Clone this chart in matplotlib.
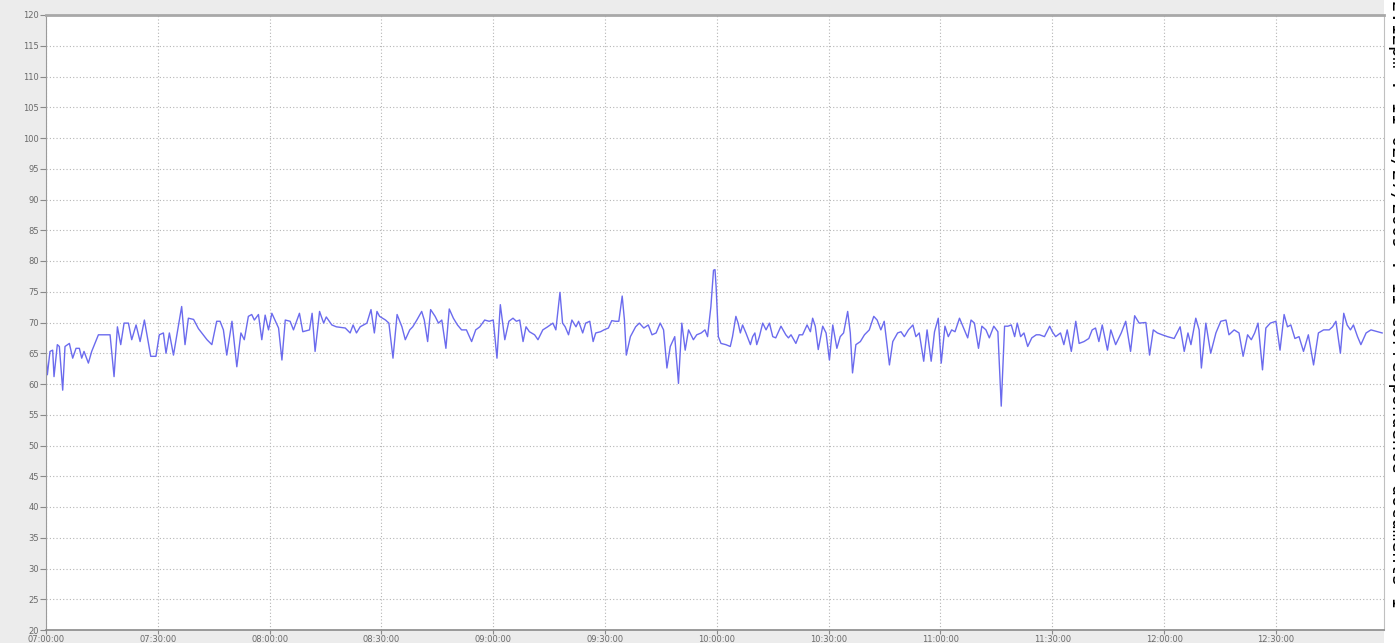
import matplotlib
matplotlib.use("Agg")
import matplotlib.pyplot as plt
from matplotlib.ticker import FixedLocator, MultipleLocator

# minutes after 07:00:00
minutes = [
    0.0, 0.36, 1.07, 1.79, 2.15, 3.04, 3.58, 4.48, 5.1, 6.27, 7.16, 8.06, 8.95, 9.58, 10.2,
    11.37, 12.26, 14.06, 15.85, 17.19, 18.26, 19.16, 20.05, 20.95, 22.11, 23.0, 24.17, 25.25,
    26.4, 28.1, 29.5, 30.4, 31.5, 32.2, 33.1, 34.2, 36.4, 37.3, 38.2, 39.6, 40.9, 43.2, 44.5,
    45.8, 46.7, 47.6, 48.5, 49.9, 51.2, 52.3, 53.2, 54.3, 55.2, 55.9, 57.0, 57.9, 58.8, 59.7,
    60.6, 62.4, 63.3, 64.2, 65.5, 66.4, 68.0, 68.9, 70.7, 71.4, 72.2, 73.4, 74.5, 75.2, 76.7,
    77.9, 80.3, 81.6, 82.4, 83.3, 84.3, 85.2, 86.1, 87.2, 88.1, 88.8, 89.5,
    91.1, 92.0, 93.1, 94.2, 95.5, 96.4, 97.6, 98.4, 99.5, 100.8, 101.5, 102.4, 103.2, 104.4,
    105.3, 106.2, 107.3, 108.2, 109.3, 110.4, 111.5, 112.8, 114.2, 115.3, 116.4, 117.7, 118.9,
    120.0, 121.0, 121.9, 123.1, 124.2, 125.3, 126.2, 127.1, 128.0, 128.8, 129.7, 131.1, 132.0,
    133.3, 134.6, 136.0, 136.8, 137.9, 138.6, 139.3, 140.2, 141.1, 142.2, 142.9, 144.0, 144.8,
    145.9, 146.8, 147.5, 148.8, 149.7, 150.9, 151.8, 152.8, 153.7, 154.6, 155.2, 155.7, 156.8,
    158.2, 159.2, 160.4, 161.6, 162.6, 163.7, 164.8, 165.7, 166.6, 167.5, 168.7, 169.7, 170.6,
    171.5, 172.4, 173.7, 174.6, 175.8, 176.8,
    177.5, 178.4, 179.1, 179.5, 179.8, 180.4, 181.1, 182.4, 183.6, 184.2, 185.1, 185.7, 186.3,
    186.9, 187.8, 189.0, 189.6, 190.2, 190.7, 191.4, 192.3, 193.2, 194.1, 195.0, 195.8, 197.2,
    198.5, 199.2, 199.9, 201.2, 202.1, 203.0, 204.2, 205.1, 205.7, 206.4, 207.2, 208.4, 209.3,
    210.2, 211.1, 212.2, 213.1, 214.0, 215.1, 215.8, 216.4, 217.3, 218.5, 219.6, 220.9, 222.1,
    223.0, 224.0, 224.9, 226.3, 227.2, 228.5, 229.4, 230.3, 231.4, 232.6, 233.4, 234.3, 235.5,
    236.4, 237.5, 238.4, 239.4, 240.2, 241.2, 242.1, 243.0, 243.9, 245.1, 246.4, 247.3, 248.2,
    249.1, 250.2, 251.1, 252.2, 253.1, 254.3, 255.4, 256.3, 257.2, 258.1, 259.0, 259.9, 260.6,
    261.5, 262.4, 263.4, 264.5, 265.7, 266.6, 267.9, 269.3,
    270.0, 270.9, 272.2, 273.1, 274.0, 275.1, 276.3, 277.2, 278.5, 279.8, 280.7, 281.6, 282.5,
    283.4, 284.8, 285.7, 287.0, 288.5, 289.7, 291.0, 292.1, 293.3, 295.1, 296.1, 297.1, 298.2,
    299.5, 300.9, 302.7, 304.3, 305.4, 306.4, 307.2, 308.5, 309.4, 310.0, 311.2, 312.5, 313.9,
    315.2, 316.6, 317.4, 318.8, 320.1, 321.2, 322.4, 323.4, 324.3, 325.2, 326.4, 327.3, 328.5,
    330.0, 331.1, 332.2, 333.1, 334.0, 335.1, 336.2, 337.4, 338.7, 340.1, 341.4, 342.8, 344.3,
    345.2, 346.1, 347.3, 348.2, 349.1, 350.0, 350.8, 351.9, 352.8, 354.2, 355.5, 358.5,
]

values = [
    64.7, 61.5, 65.3, 65.5, 61.2, 66.4, 66.1, 59.0, 66.1, 66.6, 64.2, 65.8, 65.8, 64.2, 65.3,
    63.4, 65.3, 68.0, 68.0, 68.0, 61.2, 69.3, 66.4, 69.9, 69.9, 67.2, 69.6, 66.9,
    70.4, 64.5, 64.5, 68.0, 68.3, 65.0, 68.3, 64.7, 72.6, 66.4, 70.7, 70.5, 69.0, 67.2, 66.4,
    70.2, 70.2, 68.8, 64.7, 70.2, 62.8, 68.3, 67.2, 71.0, 71.3, 70.4, 71.3, 67.2, 71.2, 68.8,
    71.5, 69.1, 63.9, 70.4, 70.2, 68.8, 71.5, 68.5, 68.8, 71.5, 65.3, 71.8, 69.9, 70.9, 69.6,
    69.3, 69.1, 68.3, 69.6, 68.3, 69.3, 69.6, 69.9, 72.1, 68.3, 71.8, 71.0,
    70.4, 69.9, 64.2, 71.3, 69.3, 67.2, 68.8, 69.3, 70.4, 71.8, 70.4, 66.9, 72.1, 71.0,
    69.9, 70.4, 65.8, 72.2, 70.7, 69.6, 68.8, 68.8, 66.9, 68.8, 69.3, 70.4, 70.2,
    70.4, 64.2, 72.9, 67.2, 70.2, 70.7, 70.2, 70.4, 66.9, 69.3, 68.5, 68.0, 67.2,
    68.8, 69.3, 69.9, 68.8, 74.9, 69.9, 69.3, 68.0, 70.4, 69.3, 70.2, 68.3, 69.9,
    70.2, 66.9, 68.3, 68.5, 68.8, 69.1, 70.3, 70.2, 70.2, 74.3, 70.4, 64.7, 67.7,
    69.3, 69.9, 69.1, 69.6, 68.0, 68.3, 69.9, 68.8, 62.6, 66.1, 67.7, 60.1, 69.9,
    65.5, 68.8, 67.2, 68.0, 68.3, 68.8,
    67.7, 72.6, 78.5, 78.6, 75.8, 67.7, 66.6, 66.4, 66.1, 67.7, 71.0, 69.9, 68.3,
    69.6, 68.3, 66.4, 67.7, 68.3, 66.4, 67.7, 69.9, 68.8, 69.9, 67.7, 67.5, 69.4,
    68.0, 67.5, 68.0, 66.6, 68.0, 68.0, 69.6, 68.5, 70.7, 69.4, 65.6, 69.4, 68.3,
    63.9, 69.6, 65.8, 67.7, 68.3, 71.8, 68.3, 61.8, 66.4, 66.9, 68.0, 68.8, 71.0,
    70.4, 68.8, 70.2, 63.1, 66.9, 68.3, 68.5, 67.7, 68.8, 69.6, 67.7, 68.3, 63.7,
    68.8, 63.7, 68.5, 70.7, 63.4, 69.4, 67.7, 68.8, 68.5, 70.7, 68.8, 67.5, 70.4,
    69.9, 65.8, 69.4, 68.8, 67.5, 69.4, 68.5, 56.4, 69.4, 69.4, 69.6, 67.7, 69.9,
    67.7, 68.3, 66.1, 67.5, 68.0, 68.0, 67.7, 69.4,
    68.5, 67.7, 68.3, 66.4, 68.8, 65.3, 70.2, 66.6, 66.9, 67.4, 68.8, 69.1, 66.9,
    69.6, 65.5, 68.8, 66.4, 68.3, 70.2, 65.3, 71.1, 69.9, 70.0, 64.7, 68.8, 68.3,
    68.0, 67.7, 67.4, 69.3, 65.3, 68.3, 66.4, 70.7, 68.8, 62.6, 69.9, 65.0, 68.3,
    70.2, 70.4, 68.0, 68.8, 68.3, 64.5, 68.0, 67.2, 68.3, 69.9, 62.3, 69.1, 69.9,
    70.2, 65.5, 71.3, 69.3, 69.6, 67.4, 67.7, 65.3, 68.0, 63.1, 68.3, 68.8, 68.8,
    69.3, 70.2, 65.0, 71.5, 69.6, 68.8, 69.6, 67.7, 66.4, 68.3, 68.8, 68.3,
]

tick_minutes = [0, 30, 60, 90, 120, 150, 180, 210, 240, 270, 300, 330]
tick_labels = ["07:00:00", "07:30:00", "08:00:00", "08:30:00", "09:00:00", "09:30:00",
               "10:00:00", "10:30:00", "11:00:00", "11:30:00", "12:00:00", "12:30:00"]

side_text = "2:12pm . 11 02/27/2009 . 11 Correspondence documents 1"

W, H = 1395, 643
fig = plt.figure(figsize=(W / 100, H / 100), dpi=100)
fig.patch.set_facecolor("white")

# light gray frame background behind the chart
bg = fig.add_axes([0, 0, 1384 / W, 1])
bg.set_facecolor("#ececec")
bg.set_xticks([]); bg.set_yticks([])
for s in bg.spines.values():
    s.set_visible(False)

ax = fig.add_axes([46 / W, 1 - 630 / H, (1384 - 46) / W, (630 - 15) / H])
ax.set_facecolor("white")
ax.plot(minutes, values, color="#6b6bee", lw=1.0)

ax.set_xlim(0, 359)
ax.set_ylim(20, 120)
ax.xaxis.set_major_locator(FixedLocator(tick_minutes))
ax.set_xticklabels(tick_labels)
ax.yaxis.set_major_locator(MultipleLocator(5))

ax.grid(True, color="#b5b5b5", linestyle=(0, (1, 2)), linewidth=0.8)
ax.tick_params(axis="both", colors="#8a8a8a", labelcolor="#6a6a6a", labelsize=6,
               width=0.8, direction="out")
ax.tick_params(axis="x", pad=0.5, length=3)
ax.tick_params(axis="y", pad=1, length=4)

ax.spines["top"].set_color("#a8a8a8")
ax.spines["top"].set_linewidth(2.0)
ax.spines["left"].set_color("#9a9a9a")
ax.spines["bottom"].set_color("#8a8a8a")
ax.spines["bottom"].set_linewidth(1.2)
ax.spines["right"].set_color("#c0c0c0")

fig.text(1398 / W, 1.0, side_text, rotation=-90, ha="center", va="top",
         family="DejaVu Sans Mono", fontsize=13.5, color="black")

fig.savefig("out.png", dpi=100)
